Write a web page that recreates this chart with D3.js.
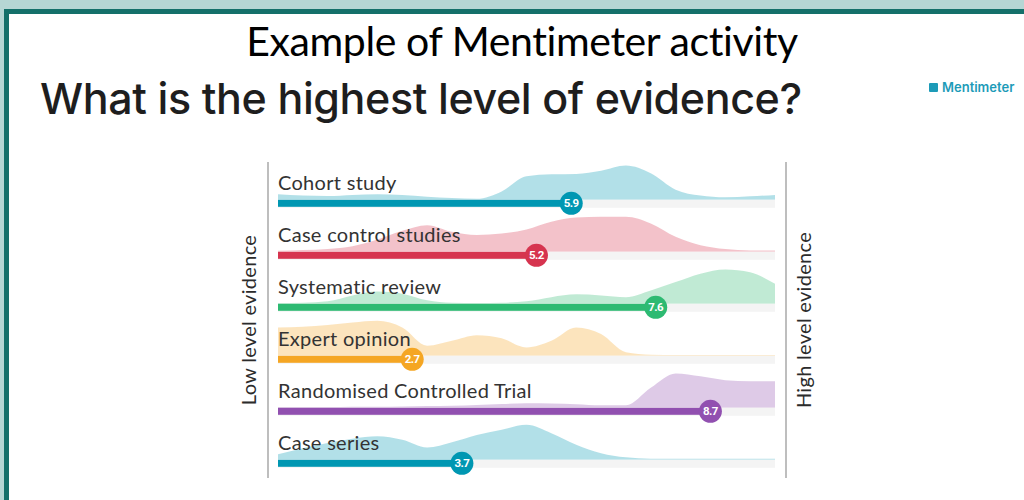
<!DOCTYPE html>
<html>
<head>
<meta charset="utf-8">
<script src="https://cdn.jsdelivr.net/npm/d3@7"></script>
<style>
  html, body { margin: 0; padding: 0; background: #fff; }
  svg { display: block; }
</style>
</head>
<body>
<div id="chart"></div>
<script>
// Data
let answers = ['Cohort study', 'Case control studies', 'Systematic review', 'Expert opinion', 'Randomised Controlled Trial', 'Case series'];
let means = [5.9, 5.2, 7.6, 2.7, 8.7, 3.7];

// sample points on the 0-10 scale for the density ridges
let samplePoints = [0, 0.5, 1, 1.5, 2, 2.5, 3, 3.5, 4, 4.5, 5, 5.5, 6, 6.5, 7, 7.5, 8, 8.5, 9, 9.5, 10];

// density heights, each normalised to its own peak
let cohortDensity      = [0.16, 0.12, 0.11, 0.14, 0.16, 0.14, 0.09, 0.05, 0.03, 0.24, 0.67, 0.73, 0.74, 0.83, 0.98, 0.76, 0.29, 0.12, 0.07, 0.10, 0.14];
let caseControlDensity = [0.03, 0.05, 0.08, 0.16, 0.35, 0.60, 0.76, 0.57, 0.48, 0.52, 0.64, 0.86, 0.98, 1.00, 1.00, 0.81, 0.43, 0.19, 0.08, 0.04, 0.04];
let systematicDensity  = [0.02, 0.03, 0.07, 0.24, 0.35, 0.29, 0.10, 0.03, 0.02, 0.03, 0.07, 0.19, 0.27, 0.24, 0.19, 0.38, 0.62, 0.86, 0.98, 0.90, 0.57];
let expertDensity      = [0.81, 0.83, 0.88, 0.95, 1.00, 0.81, 0.29, 0.43, 0.59, 0.50, 0.24, 0.43, 0.81, 0.62, 0.10, 0.03, 0.02, 0.02, 0.02, 0.02, 0.02];
let rctDensity         = [0.02, 0.02, 0.02, 0.03, 0.03, 0.04, 0.05, 0.06, 0.08, 0.11, 0.13, 0.12, 0.10, 0.07, 0.07, 0.57, 0.98, 0.90, 0.79, 0.76, 0.76];
let caseSeriesDensity  = [0.16, 0.33, 0.48, 0.60, 0.67, 0.57, 0.35, 0.50, 0.71, 0.86, 1.00, 0.76, 0.43, 0.19, 0.07, 0.03, 0.03, 0.03, 0.03, 0.03, 0.03];
let densities = [cohortDensity, caseControlDensity, systematicDensity, expertDensity, rctDensity, caseSeriesDensity];

let palette = ['#0097b2', '#d6344f', '#2dba72', '#f5a623', '#9150b0', '#0097b2'];

// Set up SVG
let width = 1024;
let height = 500;

let svg = d3.select('#chart')
	.append('svg')
	.attr('width', width)
	.attr('height', height);

// slide frame
svg.append('rect').attr('width', width).attr('height', height).attr('fill', '#b6d6d4');
svg.append('rect').attr('x', 4).attr('y', 9).attr('width', width).attr('height', height).attr('fill', '#15706a');
svg.append('rect').attr('x', 9).attr('y', 14).attr('width', width).attr('height', height).attr('fill', '#ffffff');

// headings
svg.append('text')
	.attr('x', 522)
	.attr('y', 56)
	.attr('text-anchor', 'middle')
	.attr('font-family', 'Lato, sans-serif')
	.attr('font-size', 41)
	.attr('letter-spacing', -0.4)
	.attr('fill', '#000')
	.text('Example of Mentimeter activity');

svg.append('text')
	.attr('x', 40)
	.attr('y', 114)
	.attr('font-family', 'Inter, sans-serif')
	.attr('font-weight', 500)
	.attr('font-size', 43)
	.attr('letter-spacing', -0.4)
	.attr('fill', '#1e1e1e')
	.text('What is the highest level of evidence?');

// little Mentimeter logo
let logo = svg.append('g').attr('transform', 'translate(929, 83)');
logo.append('rect').attr('width', 9).attr('height', 9).attr('rx', 1).attr('fill', '#1d9bb8');
logo.append('text')
	.attr('x', 13)
	.attr('y', 9)
	.attr('font-family', 'Inter, sans-serif')
	.attr('font-weight', 600)
	.attr('font-size', 13)
	.attr('fill', '#1d9bb8')
	.text('Mentimeter');

// Scales
let x = d3.scaleLinear().domain([0, 10]).range([278, 775]);
let y = d3.scalePoint().domain(answers).range([203.3, 463.3]);
let h = d3.scaleLinear().domain([0, 1]).range([0, 35]);
let color = d3.scaleOrdinal().domain(answers).range(palette);

let barH = 7;

// axis lines at each side
let axisTop = 162, axisBottom = 478;
[[268, 'Low level evidence', 256], [786, 'High level evidence', 811]].forEach(function(s){
	svg.append('line')
		.attr('x1', s[0]).attr('x2', s[0])
		.attr('y1', axisTop).attr('y2', axisBottom)
		.attr('stroke', '#a9a9a9')
		.attr('stroke-width', 1.5);
	svg.append('text')
		.attr('transform', 'translate(' + s[2] + ',' + (axisTop + axisBottom) / 2 + ') rotate(-90)')
		.attr('text-anchor', 'middle')
		.attr('font-family', 'Lato, sans-serif')
		.attr('font-size', 20)
		.attr('letter-spacing', 0.3)
		.attr('fill', '#2b2b2b')
		.text(s[1]);
});

// Rows
let rows = svg.selectAll('.row')
	.data(answers)
	.enter()
	.append('g')
	.attr('class', 'row');

// density ridge
let area = d3.area()
	.x(function(d){ return x(d[0]); })
	.y0(0)
	.y1(function(d){ return -h(d[1]); })
	.curve(d3.curveMonotoneX);

rows.append('path')
	.attr('transform', function(d){ return 'translate(0,' + (y(d) - barH / 2) + ')'; })
	.attr('d', function(d, i){
		return area(samplePoints.map(function(p, j){ return [p, densities[i][j]]; }));
	})
	.attr('fill', function(d){ return color(d); })
	.attr('fill-opacity', 0.3);

// answer label
rows.append('text')
	.attr('x', x(0))
	.attr('y', function(d){ return y(d) - 13; })
	.attr('font-family', 'Lato, sans-serif')
	.attr('font-size', 20)
	.attr('letter-spacing', 0.3)
	.attr('fill', '#333')
	.text(function(d){ return d; });

// grey track
rows.append('rect')
	.attr('x', x(0))
	.attr('y', function(d){ return y(d) - barH / 2; })
	.attr('width', x(10) - x(0))
	.attr('height', barH + 1)
	.attr('fill', '#f4f4f4');

// value bar
rows.append('rect')
	.attr('x', x(0))
	.attr('y', function(d){ return y(d) - barH / 2; })
	.attr('width', function(d, i){ return x(means[i]) - x(0); })
	.attr('height', barH)
	.attr('fill', function(d){ return color(d); });

rows.append('circle')
	.attr('cx', function(d, i){ return x(means[i]); })
	.attr('cy', function(d){ return y(d); })
	.attr('r', 11.5)
	.attr('fill', function(d){ return color(d); });

rows.append('text')
	.attr('x', function(d, i){ return x(means[i]); })
	.attr('y', function(d){ return y(d) + 4; })
	.attr('text-anchor', 'middle')
	.attr('font-family', 'Roboto, sans-serif')
	.attr('font-weight', 700)
	.attr('font-size', 11.5)
	.attr('letter-spacing', -0.6)
	.attr('fill', '#fff')
	.text(function(d, i){ return means[i]; });
</script>
</body>
</html>
